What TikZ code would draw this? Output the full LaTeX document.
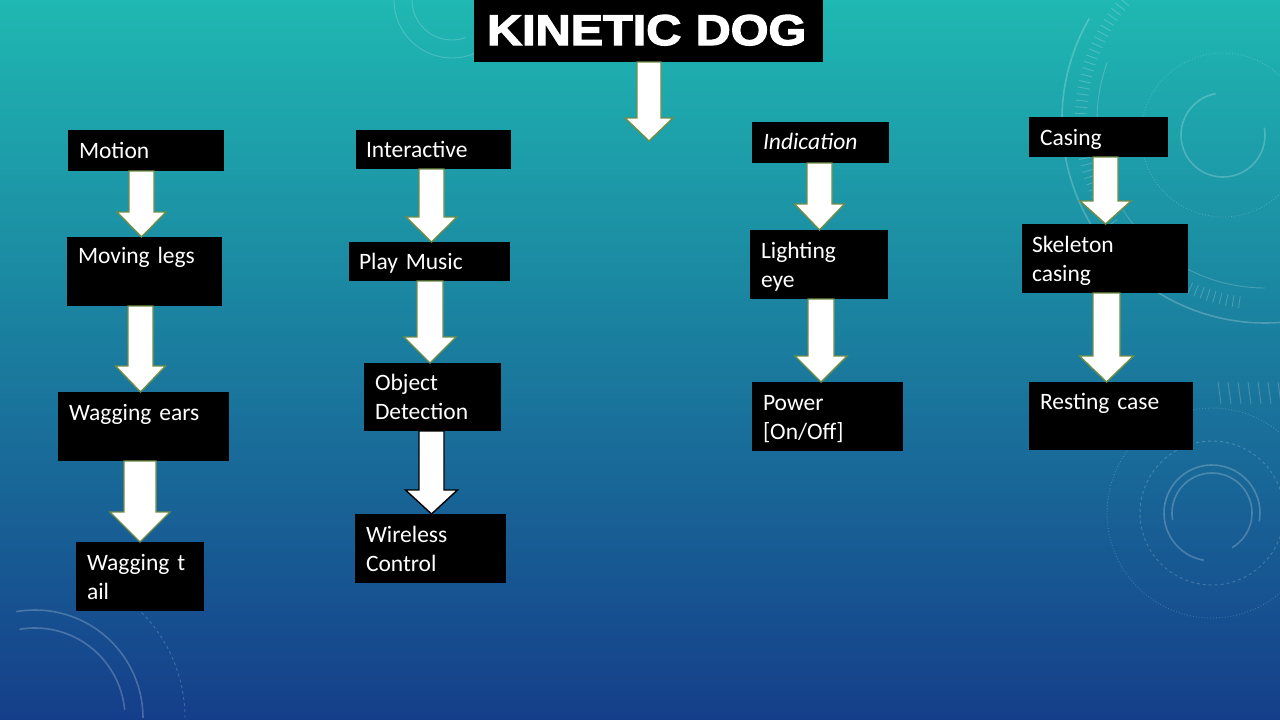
\documentclass[tikz,border=0pt]{standalone}
\usepackage{fontspec}
\setmainfont{Carlito}
\newfontfamily\titlefont[FakeStretch=1.13,FakeBold=3]{Liberation Sans}
\usetikzlibrary{calc}

\definecolor{bgtop}{RGB}{31,184,178}
\definecolor{bgmid}{RGB}{26,130,166}
\definecolor{bgbot}{RGB}{21,62,138}
\definecolor{arrowedge}{RGB}{112,142,72}

% black label box: name, x0, y0, x1, y1, first baseline, side padding, text
\newcommand{\labelbox}[9][labelbox]{%
  \pgfmathsetmacro\bxw{#5-#3-2*#8}%
  \pgfmathsetmacro\bxh{#7-#4}%
  \pgfmathsetmacro\bxd{#6-#7}%
  \node[#1, inner xsep=#8pt, text width=\bxw pt, text height=\bxh pt, text depth=\bxd pt] (#2) at (#3,#4) {#9};}

% white block arrow: source anchor, target anchor, centre x, half shaft, half head, head length
\newcommand{\blockarrow}[7][arrowbody]{%
  \draw[#1] (#4-#5,0 |- #2) -- (#4+#5,0 |- #2)
    -- ($(#4+#5,0 |- #3)+(0,-#7)$) -- ($(#4+#6,0 |- #3)+(0,-#7)$)
    -- (#4,0 |- #3)
    -- ($(#4-#6,0 |- #3)+(0,-#7)$) -- ($(#4-#5,0 |- #3)+(0,-#7)$) -- cycle;}

\begin{document}
\begin{tikzpicture}[x=1pt,y=-1pt,
  labelbox/.style={fill=black, text=white, anchor=north west, inner ysep=0pt,
    outer sep=0pt, font=\fontsize{23.5}{29}\selectfont},
  titlebox/.style={labelbox, font=\titlefont\bfseries\fontsize{43}{48}\selectfont},
  arrowbody/.style={fill=white, draw=arrowedge, line width=1.4pt, line join=miter},
  darkarrow/.style={arrowbody, draw=black},
  deco/.style={draw=white, draw opacity=0.22, line width=1.6pt},
  decothin/.style={draw=white, draw opacity=0.2, line width=0.9pt}]

% background
\useasboundingbox (0,0) rectangle (1280,720);
\shade[top color=bgtop, middle color=bgmid, bottom color=bgbot] (0,0) rectangle (1280,720);

% ornamental rings, top right
\begin{scope}[shift={(1223,135)}, yscale=-1]
  \draw[deco] (100:42) arc (100:370:42);
  \draw[decothin, dotted] (0,0) circle (82);
\end{scope}
\begin{scope}[shift={(1265,120)}, yscale=-1]
  \draw[deco] (150:203) arc (150:285:203);
  \draw[decothin] (160:168) arc (160:270:168);
  \foreach \a in {140,142,...,262} \draw[decothin] (\a:178) -- (\a:190);
\end{scope}

% ornamental rings, bottom right
\begin{scope}[shift={(1212,513)}, yscale=-1]
  \draw[deco] (-10:48) arc (-10:260:48);
  \draw[deco] (-60:40) arc (-60:190:40);
  \draw[decothin, dashed] (0,0) circle (72);
  \draw[decothin, dotted] (0,0) circle (105);
\end{scope}
\foreach \x in {1218,1228,...,1278} \draw[decothin] (\x,382) -- (\x+3,404);

% ornamental rings, bottom left
\begin{scope}[shift={(35,718)}, yscale=-1]
  \draw[deco] (0:108) arc (0:100:108);
  \draw[deco] (5:90) arc (5:100:90);
  \draw[decothin, dashed] (0:150) arc (0:60:150);
\end{scope}

% ornamental rings, beside the title
\begin{scope}[shift={(452,0)}, yscale=-1]
  \draw[decothin] (180:40) arc (180:290:40);
  \draw[decothin] (175:58) arc (175:330:58);
\end{scope}

% title
\labelbox[titlebox]{title}{474}{0}{823}{62}{45}{13}{KINETIC DOG}
\coordinate (titletip) at (649,141);

% motion column
\labelbox{motion}{68}{130}{224}{171}{158}{11}{Motion}
\labelbox{legs}{67}{237}{222}{306}{263}{11}{Moving legs}
\labelbox{ears}{58}{392}{229}{461}{420}{11}{Wagging ears}
\labelbox{tail}{76}{542}{204}{611}{570}{11}{Wagging t\\ail}

% interactive column
\labelbox{inter}{356}{130}{511}{169}{157}{10}{Interactive}
\labelbox{music}{349}{242}{510}{281}{269}{10}{Play Music}
\labelbox{object}{364}{363}{501}{431}{390}{11}{Object\\Detection}
\labelbox{wireless}{355}{514}{506}{583}{542}{11}{Wireless\\Control}

% indication column
\labelbox{indic}{752}{122}{889}{163}{149}{11}{\itshape Indication}
\labelbox{light}{750}{230}{888}{299}{258}{11}{Lighting\\eye}
\labelbox{power}{752}{382}{903}{451}{410}{11}{Power\\{[On/Off]}}

% casing column
\labelbox{casing}{1029}{117}{1168}{157}{145}{11}{Casing}
\labelbox{skel}{1022}{224}{1188}{293}{252}{10}{Skeleton\\casing}
\labelbox{rest}{1029}{382}{1193}{450}{409}{11}{Resting case}

% connecting block arrows
\blockarrow{title.south}{titletip}{649}{12}{24}{23}
\blockarrow{motion.south}{legs.north}{141.5}{12.5}{24.5}{25}
\blockarrow{legs.south}{ears.north}{140.5}{12.5}{25}{26}
\blockarrow{ears.south}{tail.north}{140}{16}{30}{30}
\blockarrow{inter.south}{music.north}{431.5}{12.5}{25.5}{25}
\blockarrow{music.south}{object.north}{430}{13}{26}{26}
\blockarrow[darkarrow]{object.south}{wireless.north}{431.5}{12.5}{26}{24}
\blockarrow{indic.south}{light.north}{819.5}{12.5}{25}{26}
\blockarrow{light.south}{power.north}{821}{13}{26}{26}
\blockarrow{casing.south}{skel.north}{1105.5}{12.5}{25.5}{23}
\blockarrow{skel.south}{rest.north}{1106.5}{13.5}{27}{26}
\end{tikzpicture}
\end{document}
